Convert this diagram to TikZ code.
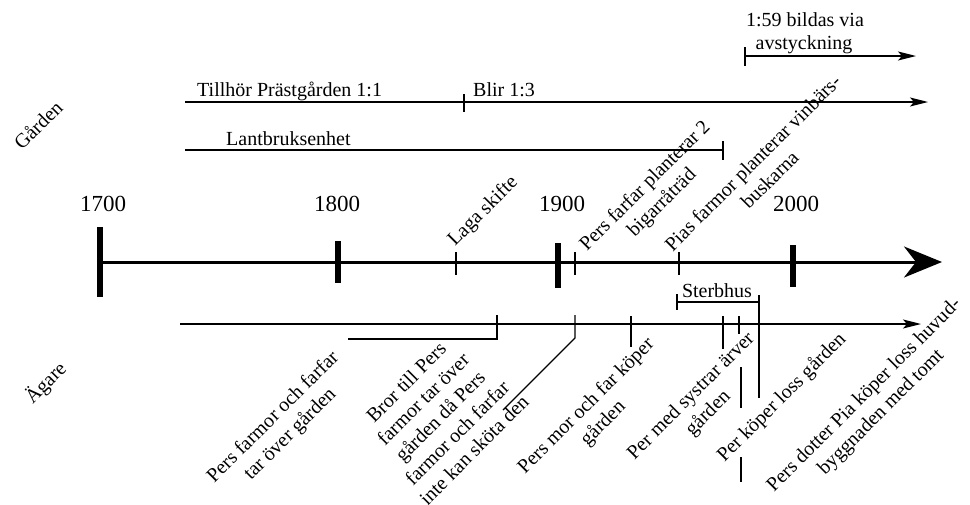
\documentclass[tikz,border=0pt]{standalone}
\usepackage{fontspec}
\setmainfont{Liberation Serif}
\usetikzlibrary{arrows.meta}
\begin{document}
\begin{tikzpicture}[x=1pt,y=-1pt,
  lbl/.style={font=\fontsize{20}{24}\selectfont, inner sep=0pt},
  yr/.style={font=\fontsize{23}{27}\selectfont, inner sep=0pt, anchor=base},
  rlbl/.style={lbl, rotate=45, align=center},
  thinln/.style={line width=1.3pt},
  tarrow/.style={thinln, -{Stealth[length=18pt,width=9pt,inset=4pt]}},
  major/.style={line width=5.5pt},
]
\useasboundingbox (0,0) rectangle (970,504);

% side labels
\node[rlbl] (garden) at (38,125) {Gården};
\node[rlbl] (agare) at (46,383) {Ägare};

% Gården rows
\coordinate (r0s) at (745,56);
\coordinate (r0e) at (916,56);
\draw[tarrow] (r0s) -- (r0e);
\draw[thinln] (745,47) -- (745,66);
\node[lbl, anchor=base] (t59a) at (805,26) {1:59 bildas via};
\node[lbl, anchor=base] (t59b) at (804,49) {avstyckning};

\coordinate (r1s) at (185,102);
\coordinate (r1e) at (928,102);
\draw[tarrow] (r1s) -- (r1e);
\draw[thinln] (464,94) -- (464,112);
\node[lbl, anchor=base west] (till) at (197,96) {Tillhör Prästgården 1:1};
\node[lbl, anchor=base west] (blir) at (473,96) {Blir 1:3};

\coordinate (r2s) at (185,150);
\coordinate (r2e) at (723,150);
\draw[thinln] (r2s) -- (r2e);
\draw[thinln] (723,141) -- (723,160);
\node[lbl, anchor=base west] (lant) at (226,145) {Lantbruksenhet};

% main time line
\coordinate (m0) at (100,262);
\coordinate (mE) at (942,262);
\draw[line width=3pt, -{Stealth[length=38pt,width=31pt,inset=12pt]}] (m0) -- (mE);
\draw[major] (100,227) -- (100,297);
\draw[major] (338,241) -- (338,283);
\draw[major] (558,243) -- (558,288);
\draw[major] (793,245) -- (793,287);
\node[yr] (y1700) at (103,211) {1700};
\node[yr] (y1800) at (337,211) {1800};
\node[yr] (y1900) at (562,211) {1900};
\node[yr] (y2000) at (796,211) {2000};

\draw[thinln] (456,252) -- (456,275);
\draw[thinln] (575,252) -- (575,275);
\draw[thinln] (679,252) -- (679,275);

\node[lbl, rotate=45, anchor=base west] (laga) at (455,247) {Laga skifte};
\node[rlbl] (farfar) at (654,195) {Pers farfar planterar 2\\bigarråträd};
\node[rlbl] (pias) at (761,171) {Pias farmor planterar vinbärs-\\buskarna};

% Sterbhus
\draw[thinln] (677,294) -- (677,310);
\draw[thinln] (677,302) -- (759,302);
\node[lbl, anchor=base] (sterb) at (717,297) {Sterbhus};

% Ägare line
\coordinate (a0) at (180,324);
\coordinate (aE) at (921,324);
\draw[tarrow] (a0) -- (aE);

\draw[thinln] (497,315) -- (497,339) -- (348,339);
\draw[thinln] (575,315) -- (575,338) -- (503,410);
\draw[thinln] (631,316) -- (631,347);
\draw[thinln] (723,316) -- (723,349);
\draw[thinln] (739,316) -- (739,334);
\draw[thinln] (741,367) -- (741,408);
\draw[thinln] (741,457) -- (741,482);
\draw[thinln] (759,295) -- (759,398);

\node[rlbl] (o1) at (282,426) {Pers farmor och farfar\\tar över gården};
\node[rlbl] (o2) at (440,416) {Bror till Pers\\farmor tar över\\gården då Pers\\farmor och farfar\\inte kan sköta den};
\node[rlbl] (o3) at (595,415) {Pers mor och far köper\\gården};
\node[rlbl] (o4) at (700,405) {Per med systrar ärver\\gården};
\node[rlbl] (o5) at (782,398) {Per köper loss gården};
\node[rlbl] (o6) at (873,404) {Pers dotter Pia köper loss huvud-\\byggnaden med tomt};
\end{tikzpicture}
\end{document}
